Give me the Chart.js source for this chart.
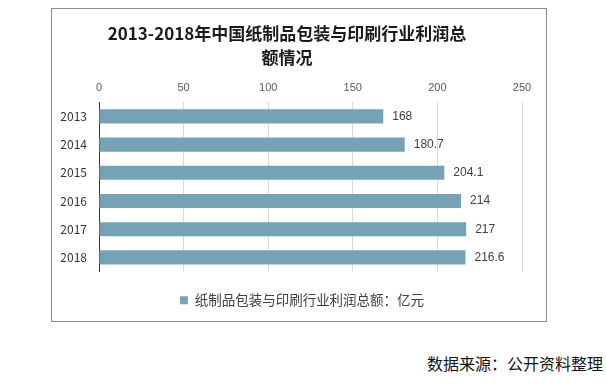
<!DOCTYPE html>
<html>
<head>
<meta charset="utf-8">
<script src="https://cdn.jsdelivr.net/npm/chart.js@4/dist/chart.umd.min.js"></script>
<style>
  body { margin: 0; background: #fff; width: 606px; height: 385px; position: relative; }
  #box { position: absolute; left: 51px; top: 8px; width: 496px; height: 314px; border: 1px solid #8c8c8c; box-sizing: border-box; }
  #box canvas { display: block; }
  #source { position: absolute; left: 427px; top: 351px; font: 16px "Noto Sans CJK SC", sans-serif; color: #111; white-space: nowrap; }
</style>
</head>
<body>
<div id="box"><canvas id="c" width="494" height="312"></canvas></div>
<div id="source">数据来源：公开资料整理</div>
<script>
const years  = ['2013', '2014', '2015', '2016', '2017', '2018']
const profit = [168, 180.7, 204.1, 214, 217, 216.6]
const seriesName = '纸制品包装与印刷行业利润总额：亿元'
const titleLines = ['2013-2018年中国纸制品包装与印刷行业利润总', '额情况']

const barColor = '#76a2b5'
const cjk = '"Noto Sans CJK SC", sans-serif'
const latin = '"Liberation Sans", Arial, sans-serif'

// value labels at the end of each bar
const valueLabels = {
  id: 'valueLabels',
  afterDatasetsDraw(chart) {
    const ctx = chart.ctx
    const meta = chart.getDatasetMeta(0)
    ctx.save()
    ctx.font = '12px ' + latin
    ctx.fillStyle = '#404040'
    ctx.textAlign = 'left'
    ctx.textBaseline = 'middle'
    meta.data.forEach((bar, i) => {
      ctx.fillText(String(profit[i]), bar.x + 9, bar.y)
    })
    ctx.restore()
  }
}

// legend sits a little right of the title in the original
const shiftLegend = {
  id: 'shiftLegend',
  afterLayout(chart) {
    if (!chart.legend) return
    chart.legend.left += 15
    chart.legend.right += 15
  }
}

new Chart(document.getElementById('c'), {
  type: 'bar',
  data: {
    labels: years,
    datasets: [{
      label: seriesName,
      data: profit,
      backgroundColor: barColor,
      barPercentage: 0.5,
      categoryPercentage: 1.0
    }]
  },
  options: {
    indexAxis: 'y',
    responsive: false,
    animation: false,
    layout: { padding: { left: 0, right: 24, top: 0, bottom: 4 } },
    scales: {
      x: {
        position: 'top',
        min: 0,
        max: 250,
        ticks: { stepSize: 50, padding: 8, color: '#595959', font: { family: latin, size: 11 } },
        grid: { color: '#d9d9d9', drawTicks: false },
        border: { display: false },
        afterFit: s => { s.height = 33 }
      },
      y: {
        ticks: { padding: 12, color: '#333', font: { family: cjk, size: 12 } },
        grid: { display: false, drawTicks: false },
        border: { display: true, color: '#333', width: 1 },
        afterFit: s => { s.width = 47 }
      }
    },
    plugins: {
      title: {
        display: true,
        text: titleLines,
        color: '#1a1a1a',
        font: { family: cjk, size: 17, weight: 'bold', lineHeight: 1.42 },
        padding: { top: 12, bottom: 0 }
      },
      legend: {
        position: 'bottom',
        labels: {
          boxWidth: 8,
          boxHeight: 8,
          padding: 22,
          color: '#404040',
          font: { family: cjk, size: 13.5 }
        }
      },
      tooltip: { enabled: false }
    }
  },
  plugins: [valueLabels, shiftLegend]
})
</script>
</body>
</html>
